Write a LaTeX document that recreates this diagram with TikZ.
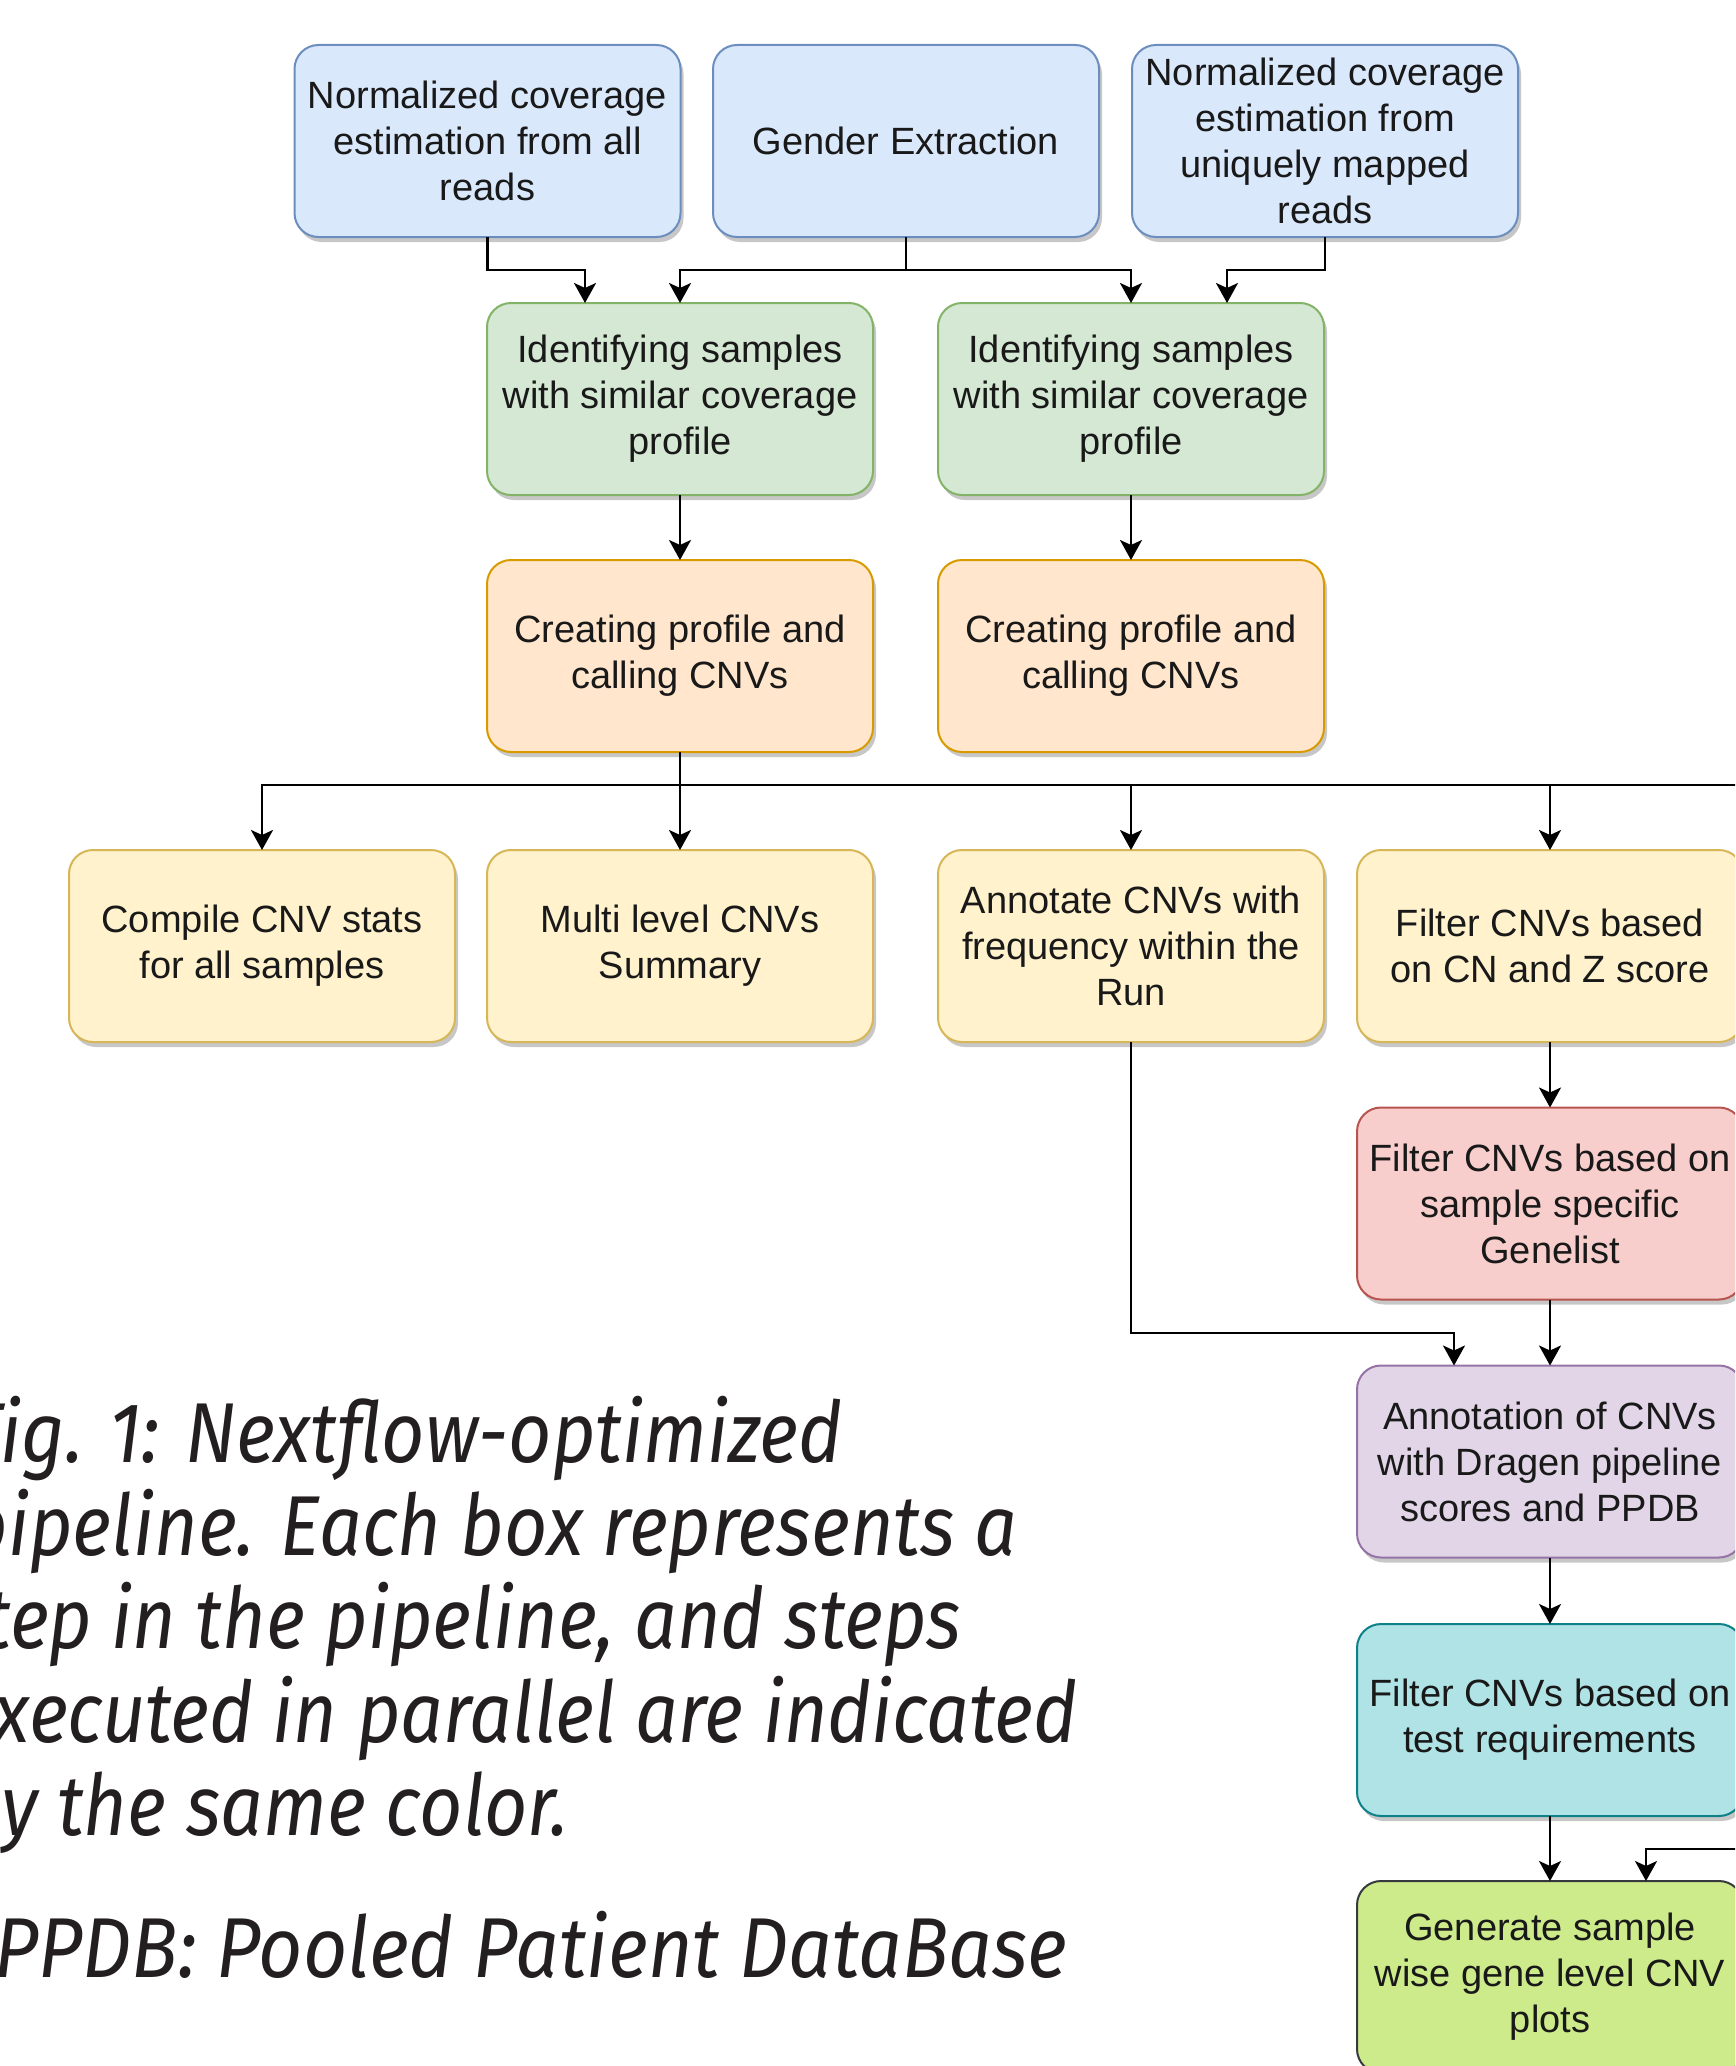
\documentclass[tikz,border=0pt]{standalone}
\usepackage{fontspec}
\setmainfont{Liberation Sans}
\newfontfamily\capfont[FakeStretch=0.885]{Fira Sans}
\newfontfamily\capfontb[FakeStretch=0.905]{Fira Sans}
\usetikzlibrary{arrows.meta,shadows,calc}
\definecolor{blueF}{HTML}{DAE8FC}\definecolor{blueD}{HTML}{6C8EBF}
\definecolor{greenF}{HTML}{D5E8D4}\definecolor{greenD}{HTML}{82B366}
\definecolor{orangeF}{HTML}{FFE6CC}\definecolor{orangeD}{HTML}{D79B00}
\definecolor{yellowF}{HTML}{FFF2CC}\definecolor{yellowD}{HTML}{D6B656}
\definecolor{redF}{HTML}{F8CECC}\definecolor{redD}{HTML}{B85450}
\definecolor{purpleF}{HTML}{E1D5E7}\definecolor{purpleD}{HTML}{9673A6}
\definecolor{cyanF}{HTML}{B0E3E6}\definecolor{cyanD}{HTML}{0E8088}
\definecolor{limeF}{HTML}{CDEB8B}\definecolor{limeD}{HTML}{36393D}
\definecolor{capcol}{HTML}{231F20}
\tikzset{
  box/.style={draw, line width=1pt, rounded corners=12pt, minimum width=193pt,
    minimum height=96pt, inner sep=0pt, outer sep=0pt, align=center, text=black!90,
    font=\fontsize{19}{23}\selectfont,
    drop shadow={shadow xshift=1.5pt, shadow yshift=-2.5pt, opacity=0.22, fill=black}},
  bluebox/.style={box, fill=blueF, draw=blueD},
  greenbox/.style={box, fill=greenF, draw=greenD},
  orangebox/.style={box, fill=orangeF, draw=orangeD},
  yellowbox/.style={box, fill=yellowF, draw=yellowD},
  redbox/.style={box, fill=redF, draw=redD},
  purplebox/.style={box, fill=purpleF, draw=purpleD},
  cyanbox/.style={box, fill=cyanF, draw=cyanD},
  limebox/.style={box, fill=limeF, draw=limeD},
  conn/.style={line width=1.25pt, draw=black},
  arr/.style={conn, -{Stealth[length=10pt,width=11pt,inset=2.5pt]}},
  captext/.style={inner sep=0pt, text=capcol, font=\capfont\itshape\fontsize{42.5}{46.5}\selectfont},
  captextb/.style={inner sep=0pt, text=capcol, font=\capfontb\itshape\fontsize{42.5}{46.5}\selectfont}
}
\begin{document}
\begin{tikzpicture}[x=0.5pt,y=-0.5pt]
\useasboundingbox (0,0) rectangle (1735,2066);
\clip (0,0) rectangle (1735,2066);
% top row
\node[bluebox] (a) at (487.5,141) {Normalized coverage\\estimation from all\\reads};
\node[bluebox] (b) at (906,141) {Gender Extraction};
\node[bluebox] (c) at (1325,141) {Normalized coverage\\estimation from\\uniquely mapped\\reads};
% green
\node[greenbox] (g1) at (680,399) {Identifying samples\\with similar coverage\\profile};
\node[greenbox] (g2) at (1131,399) {Identifying samples\\with similar coverage\\profile};
% orange
\node[orangebox] (o1) at (680,656) {Creating profile and\\calling CNVs};
\node[orangebox] (o2) at (1131,656) {Creating profile and\\calling CNVs};
% yellow
\node[yellowbox] (y1) at (262,946) {Compile CNV stats\\for all samples};
\node[yellowbox] (y2) at (680,946) {Multi level CNVs\\Summary};
\node[yellowbox] (y3) at (1131,946) {Annotate CNVs with\\frequency within the\\Run};
\node[yellowbox] (y4) at (1550,946) {Filter CNVs based\\on CN and Z score};
% right column
\node[redbox] (pk) at (1550,1203.5) {Filter CNVs based on\\sample specific\\Genelist};
\node[purplebox] (pu) at (1550,1461.5) {Annotation of CNVs\\with Dragen pipeline\\scores and PPDB};
\node[cyanbox] (cy) at (1550,1720) {Filter CNVs based on\\test requirements};
\node[limebox] (li) at (1550,1977) {Generate sample\\wise gene level CNV\\plots};
% connectors top
\draw[arr] (a.south) -- ++(0,33) -| ([xshift=-47.5pt]g1.north);
\draw[arr] (b.south) -- ++(0,33) -| (g1.north);
\draw[arr] (b.south) -- ++(0,33) -| (g2.north);
\draw[arr] (c.south) -- ++(0,33) -| ([xshift=48pt]g2.north);
\draw[arr] (g1) -- (o1);
\draw[arr] (g2) -- (o2);
% bus
\coordinate (busmid) at ([yshift=-16.5pt]o1.south);
\coordinate (busend) at ($(busmid)+(1100,0)$);
\draw[arr] (o1.south) -- (busmid) -| (y1.north);
\draw[arr] (o1.south) -- (busmid) -| (y2.north);
\draw[arr] (o1.south) -- (busmid) -| (y3.north);
\draw[arr] (o1.south) -- (busmid) -| (y4.north);
\draw[conn] (o1.south) -- (busmid) -- (busend);
% right column
\draw[arr] (y4) -- (pk);
\draw[arr] (pk) -- (pu);
\draw[arr] (pu) -- (cy);
\draw[arr] (cy) -- (li);
\draw[arr] (y3.south) -- ++(0,291) -| ([xshift=-48pt]pu.north);
\coordinate (rin) at (1760,1849);
\draw[arr] (rin) -| ([xshift=48pt]li.north);
% caption
\node[captext, anchor=base east] (c1) at (843,1462) {Fig. 1: Nextflow-optimized};
\node[captext, anchor=base east] (c2) at (1018,1555) {pipeline. Each box represents a};
\node[captext, anchor=base east] (c3) at (962,1648) {step in the pipeline, and steps};
\node[captext, anchor=base east] (c4) at (1078,1742) {executed in parallel are indicated};
\node[captext, anchor=base east] (c5) at (569,1835) {by the same color.};
\node[captextb, anchor=base east] (c6) at (1068,1977) {PPDB: Pooled Patient DataBase};
\end{tikzpicture}
\end{document}
